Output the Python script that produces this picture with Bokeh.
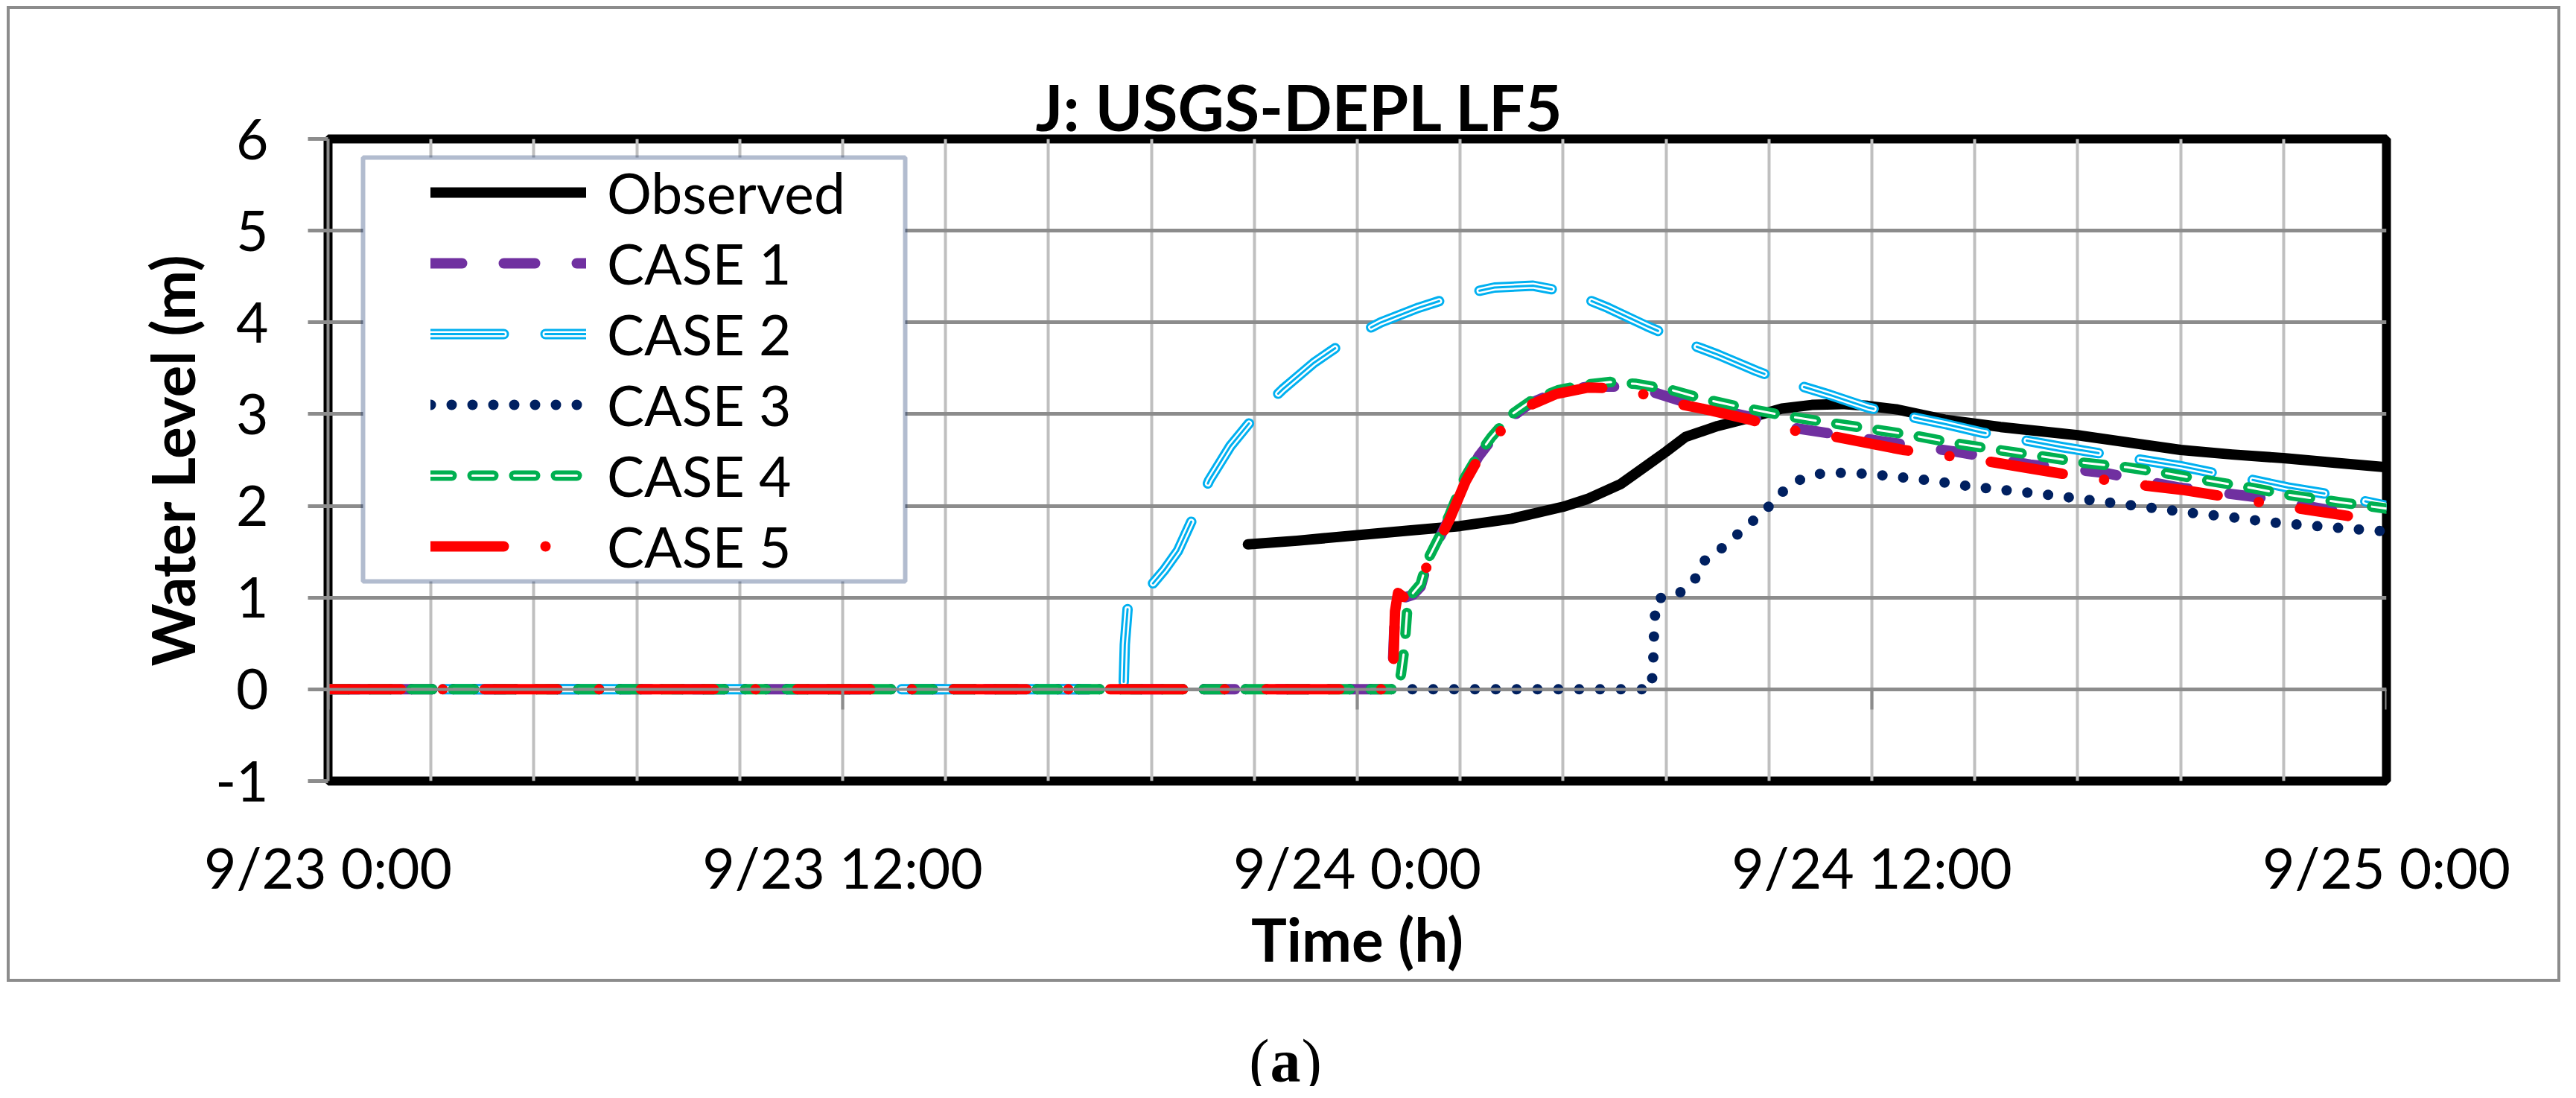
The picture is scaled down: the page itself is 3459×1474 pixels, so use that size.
from bokeh.plotting import figure
from bokeh.layouts import column
from bokeh.models import Range1d, FixedTicker, LinearAxis, Legend, LegendItem, BoxAnnotation, Label
from bokeh.embed import file_html
from bokeh.resources import INLINE

# ---------------- data (hours since 9/23 0:00, water level in m) ----------------
x_ticks = [0, 12, 24, 36, 48]
x_tick_labels = ["9/23 0:00", "9/23 12:00", "9/24 0:00", "9/24 12:00", "9/25 0:00"]
x_grid_ticks = [2.4, 4.8, 7.2, 9.6, 12.0, 14.4, 16.8, 19.2, 21.6, 24.0, 26.4, 28.8,
                31.2, 33.6, 36.0, 38.4, 40.8, 43.2, 45.6]
y_ticks = [-1, 0, 1, 2, 3, 4, 5, 6]
y_tick_labels = ["-1", "0", "1", "2", "3", "4", "5", "6"]

obs_x = [21.45, 22.6, 24.0, 25.2, 26.4, 27.6, 28.8, 29.4, 30.15, 30.9, 31.2, 31.65, 32.4,
         33.15, 33.9, 34.6, 35.3, 35.9, 36.6, 37.7, 39.0, 40.8, 42.0, 43.2, 44.4, 45.6, 46.8, 48.0]
obs_y = [1.58, 1.62, 1.68, 1.73, 1.78, 1.86, 1.99, 2.08, 2.24, 2.49, 2.59, 2.75, 2.87,
         2.96, 3.06, 3.10, 3.11, 3.09, 3.05, 2.94, 2.86, 2.77, 2.69, 2.61, 2.56, 2.52, 2.47, 2.42]

c1_x = [0, 24.80, 24.84, 24.88, 24.95, 25.1, 25.3, 25.48, 25.63, 25.78, 26.15, 26.53, 26.83,
        27.13, 27.58, 28.04, 28.64, 29.39, 30.14, 30.9, 31.5, 32.4, 33.16, 33.89, 36.15,
        37.96, 39.69, 41.42, 43.15, 44.89, 47.2]
c1_y = [0, 0, 0.38, 0.85, 1.04, 1.0, 1.03, 1.12, 1.37, 1.52, 1.87, 2.29, 2.54,
        2.72, 2.96, 3.12, 3.24, 3.30, 3.30, 3.24, 3.15, 3.05, 2.97, 2.87, 2.71,
        2.59, 2.45, 2.36, 2.20, 2.10, 1.91]

c2_x = [0, 18.55, 18.58, 18.67, 18.9, 19.21, 19.5, 19.82, 20.2, 20.55, 21.04, 21.6, 22.26,
        22.99, 23.8, 24.55, 25.43, 26.3, 27.2, 28.1, 29.0, 29.84, 30.75, 31.6, 32.4, 33.31,
        33.89, 35.02, 35.92, 36.8, 37.73, 38.56, 39.5, 40.44, 41.35, 42.3, 43.23, 44.06,
        44.9, 45.7, 47.0, 48.0]
c2_y = [0, 0, 0.49, 1.03, 1.10, 1.14, 1.30, 1.51, 1.90, 2.28, 2.65, 2.97, 3.27,
        3.56, 3.82, 4.00, 4.16, 4.29, 4.38, 4.40, 4.32, 4.16, 3.96, 3.79, 3.65, 3.47,
        3.37, 3.21, 3.07, 2.98, 2.89, 2.80, 2.72, 2.64, 2.57, 2.50, 2.43, 2.35,
        2.28, 2.20, 2.10, 2.00]

c3_x = [0, 30.86, 30.9, 30.93, 31.0, 31.42, 31.84, 32.03, 32.43, 32.82, 33.19, 33.57, 33.91,
        34.3, 34.8, 35.32, 35.81, 36.3, 37.32, 38.33, 39.31, 40.31, 41.3, 42.33, 43.32,
        44.32, 45.32, 46.6, 48.0]
c3_y = [0, 0, 0.29, 0.76, 0.99, 1.02, 1.16, 1.38, 1.51, 1.67, 1.82, 1.98, 2.15,
        2.28, 2.35, 2.36, 2.35, 2.33, 2.28, 2.21, 2.16, 2.11, 2.05, 1.99, 1.93,
        1.88, 1.82, 1.77, 1.72]

c4_x = [0, 24.95, 25.02, 25.1, 25.17, 25.3, 25.48, 25.63, 25.9, 26.15, 26.5, 26.83, 27.13,
        27.58, 28.04, 28.68, 29.3, 29.9, 30.5, 31.35, 32.03, 33.0, 34.0, 34.95, 35.96,
        36.94, 37.96, 38.94, 39.95, 40.93, 41.95, 42.93, 43.9, 44.92, 45.7, 46.9, 48.0]
c4_y = [0, 0, 0.17, 0.45, 0.9, 1.05, 1.15, 1.40, 1.65, 1.90, 2.30, 2.56, 2.75,
        2.99, 3.14, 3.26, 3.32, 3.35, 3.33, 3.26, 3.17, 3.07, 2.98, 2.91, 2.84,
        2.77, 2.68, 2.61, 2.54, 2.47, 2.42, 2.35, 2.27, 2.19, 2.12, 2.04, 1.97]

c5_x = [0, 24.82, 24.85, 24.88, 24.95, 25.1, 25.3, 25.48, 25.63, 25.78, 26.15, 26.53, 26.83,
        27.13, 27.58, 28.04, 28.64, 29.39, 30.14, 30.9, 31.5, 32.14, 33.16, 33.89, 34.95,
        36.72, 38.64, 40.44, 42.4, 43.3, 44.25, 45.7, 47.1]
c5_y = [0, 0, 0.40, 0.85, 1.05, 1.0, 1.02, 1.11, 1.36, 1.50, 1.85, 2.27, 2.52,
        2.70, 2.94, 3.10, 3.22, 3.29, 3.28, 3.19, 3.11, 3.05, 2.94, 2.84, 2.77,
        2.61, 2.49, 2.35, 2.22, 2.17, 2.10, 1.99, 1.89]

series_names = ["Observed", "CASE 1", "CASE 2", "CASE 3", "CASE 4", "CASE 5"]
title_text = "J: USGS-DEPL LF5"

# ---------------- styling constants ----------------
FONT = "Lato"
SERIF = "Liberation Serif"
GRAY = "#8c8c8c"
W = 3443
grad = "linear-gradient(#8c8c8c, #8c8c8c)"
frame_css = {
    "background-color": "white",
    "background-image": ", ".join([grad] * 4),
    "background-size": "4px 1310px, 4px 1310px, 3429px 4px, 3429px 4px",
    "background-position": "9px 8px, 3434px 8px, 9px 8px, 9px 1314px",
    "background-repeat": "no-repeat",
}


def no_frame_align(f):
    try:
        f.frame_align = False
    except Exception:
        pass


# ---------------- main chart ----------------
fig = figure(width=W, height=1328, x_range=Range1d(0, 48), y_range=Range1d(-1, 6),
             output_backend="svg", toolbar_location=None,
             min_border_left=440, min_border_right=239, min_border_top=186, min_border_bottom=280,
             background_fill_color="white", border_fill_color=None)
no_frame_align(fig)
fig.outline_line_color = "black"
fig.outline_line_width = 12

fig.title.text = title_text
fig.title.align = "left"
fig.title.offset = 950
fig.title.text_font = FONT
fig.title.text_font_style = "bold"
fig.title.text_font_size = "86px"
fig.title.text_color = "black"
try:
    fig.title.standoff = -15
except Exception:
    fig.title.standoff = 0

fig.xgrid.ticker = FixedTicker(ticks=x_grid_ticks)
fig.xgrid.grid_line_color = "#bfbfbf"
fig.xgrid.grid_line_width = 4
fig.ygrid.ticker = FixedTicker(ticks=y_ticks)
fig.ygrid.grid_line_color = GRAY
fig.ygrid.grid_line_width = 5

xa = fig.xaxis[0]
xa.ticker = FixedTicker(ticks=x_ticks)
xa.major_label_overrides = {t: s for t, s in zip(x_ticks, x_tick_labels)}
xa.axis_line_color = None
xa.major_tick_out = 0
xa.major_tick_in = 0
xa.minor_tick_line_color = None
xa.major_label_standoff = 70
xa.major_label_text_font = FONT
xa.major_label_text_font_size = "75px"
xa.major_label_text_color = "black"
xa.axis_label = "Time (h)"
xa.axis_label_text_font = FONT
xa.axis_label_text_font_style = "bold"
xa.axis_label_text_font_size = "80px"
xa.axis_label_text_color = "black"
xa.axis_label_standoff = 0

ya = fig.yaxis[0]
ya.ticker = FixedTicker(ticks=y_ticks)
ya.major_label_overrides = {t: s for t, s in zip(y_ticks, y_tick_labels)}
ya.axis_line_color = GRAY
ya.axis_line_width = 4
ya.major_tick_out = 27
ya.major_tick_in = 0
ya.major_tick_line_color = GRAY
ya.major_tick_line_width = 5
ya.minor_tick_line_color = None
ya.major_label_standoff = 53
ya.major_label_text_font = FONT
ya.major_label_text_font_size = "75px"
ya.major_label_text_color = "black"
ya.axis_label = "Water Level (m)"
ya.axis_label_text_font = FONT
ya.axis_label_text_font_style = "bold"
ya.axis_label_text_font_size = "80px"
ya.axis_label_text_color = "black"
ya.axis_label_standoff = 7

# horizontal axis crossing at y = 0, ticks pointing down
zero_axis = LinearAxis(fixed_location=0, ticker=FixedTicker(ticks=x_ticks),
                       major_tick_in=27, major_tick_out=0, minor_tick_line_color=None,
                       axis_line_color=GRAY, axis_line_width=4,
                       major_tick_line_color=GRAY, major_tick_line_width=4,
                       major_label_text_font_size="1px", major_label_standoff=0,
                       major_label_text_color=None)
fig.add_layout(zero_axis, "above")

# ---------------- series ----------------
kw = dict(line_cap="round", line_join="round")
r_obs = fig.line(obs_x, obs_y, line_color="black", line_width=14, **kw)
r_c1 = fig.line(c1_x, c1_y, line_color="#7030A0", line_width=14, line_dash="42 56", **kw)
r_c2a = fig.line(c2_x, c2_y, line_color="#00B0F0", line_width=14, line_dash="98 56", **kw)
r_c2b = fig.line(c2_x, c2_y, line_color="white", line_width=8, line_dash="98 56", **kw)
r_c2c = fig.line(c2_x, c2_y, line_color="#00B0F0", line_width=3, line_dash="98 56", **kw)
r_c3 = fig.line(c3_x, c3_y, line_color="#002060", line_width=14, line_dash="0 28", **kw)
r_c4a = fig.line(c4_x, c4_y, line_color="#00B050", line_width=14, line_dash="28 28", **kw)
r_c4b = fig.line(c4_x, c4_y, line_color="white", line_width=3, line_dash="28 28", **kw)
r_c5 = fig.line(c5_x, c5_y, line_color="#FF0000", line_width=14, line_dash="98 56 0 56", **kw)

# legend box
fig.add_layout(BoxAnnotation(left=47, right=775, top=837, bottom=268,
                             left_units="screen", right_units="screen",
                             top_units="screen", bottom_units="screen",
                             fill_color="white", fill_alpha=1,
                             line_color="#002060", line_width=6))

items = [LegendItem(label=series_names[0], renderers=[r_obs]),
         LegendItem(label=series_names[1], renderers=[r_c1]),
         LegendItem(label=series_names[2], renderers=[r_c2a, r_c2b, r_c2c]),
         LegendItem(label=series_names[3], renderers=[r_c3]),
         LegendItem(label=series_names[4], renderers=[r_c4a, r_c4b]),
         LegendItem(label=series_names[5], renderers=[r_c5])]
legend = Legend(items=items, location=(138, 270), orientation="vertical",
                glyph_width=209, glyph_height=90, label_height=90, spacing=5,
                padding=0, margin=0, label_standoff=28,
                background_fill_alpha=0, border_line_alpha=0,
                label_text_font=FONT, label_text_font_size="75px", label_text_color="black")
fig.add_layout(legend, "center")

# ---------------- caption strip "(a)" ----------------
p_cap = figure(width=W, height=130, x_range=Range1d(0, 1), y_range=Range1d(0, 1),
               output_backend="svg", toolbar_location=None, min_border=0,
               x_axis_location=None, y_axis_location=None,
               border_fill_color=None, background_fill_color=None)
p_cap.outline_line_color = None
p_cap.grid.visible = False
no_frame_align(p_cap)
cap_kw = dict(y=34, x_units="screen", y_units="screen", text_baseline="middle",
              text_font=SERIF, text_font_size="82px", text_color="black")
p_cap.add_layout(Label(x=1704, text="(", text_align="right", **cap_kw))
p_cap.add_layout(Label(x=1725.5, text="a", text_align="center", text_font_style="bold", **cap_kw))
p_cap.add_layout(Label(x=1747, text=")", text_align="left", **cap_kw))

p = column(fig, p_cap, spacing=0, styles=frame_css)

open("out.html", "w").write(file_html(p, INLINE))
